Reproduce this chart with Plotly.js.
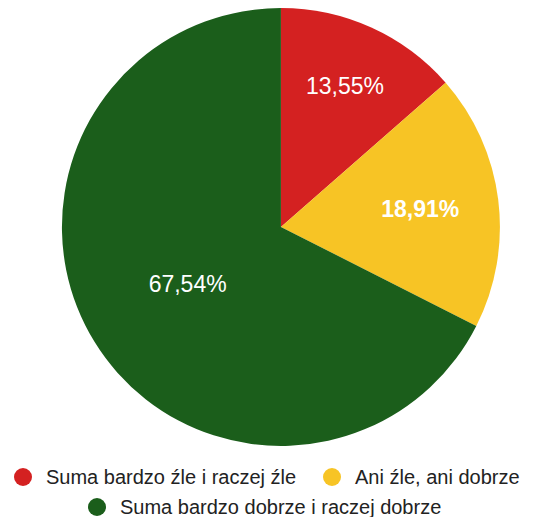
<!DOCTYPE html>
<html>
<head>
<meta charset="utf-8">
<script src="https://cdn.plot.ly/plotly-3.0.1.min.js"></script>
<style>
  html, body { margin: 0; padding: 0; background: #fff; }
  #chart { width: 553px; height: 517px; }
</style>
</head>
<body>
<div id="chart"></div>
<script>
const labels = ['Suma bardzo źle i raczej źle', 'Ani źle, ani dobrze', 'Suma bardzo dobrze i raczej dobrze'];
const values = [13.55, 18.91, 67.54];
const colors = ['#d42121', '#f7c425', '#1b5e1b'];

// legend entries drawn by hand: dot centre + text start, in pixels
const legendPos = [[23, 477], [332, 477], [97, 507]];

const W = 553, H = 517;
const px = x => x / W;
const py = y => 1 - y / H;

const pie = {
  type: 'pie',
  labels: labels,
  values: values,
  sort: false,
  direction: 'clockwise',
  rotation: 0,
  marker: { colors: colors, line: { width: 0 } },
  textposition: 'inside',
  insidetextorientation: 'horizontal',
  texttemplate: ['%{value:.2f}%', '<b>%{value:.2f}%</b>', '%{value:.2f}%'],
  textfont: { family: 'Liberation Sans, Arial, sans-serif', size: 23, color: '#ffffff' },
  domain: { x: [0.112, 0.904], y: [0.137, 0.985] },
  showlegend: false,
  hoverinfo: 'label+percent'
};

const shapes = labels.map((l, i) => ({
  type: 'circle',
  xref: 'paper', yref: 'paper',
  xsizemode: 'pixel', ysizemode: 'pixel',
  xanchor: px(legendPos[i][0]), yanchor: py(legendPos[i][1]),
  x0: -9, x1: 9, y0: -9, y1: 9,
  fillcolor: colors[i],
  line: { width: 0 }
}));

const annotations = labels.map((l, i) => ({
  text: l,
  xref: 'paper', yref: 'paper',
  x: px(legendPos[i][0] + 21), y: py(legendPos[i][1]),
  xanchor: 'left', yanchor: 'middle',
  showarrow: false,
  font: { family: 'Liberation Sans, Arial, sans-serif', size: 20, color: '#222222' }
}));

const layout = {
  width: W,
  height: H,
  margin: { t: 0, r: 0, b: 0, l: 0 },
  paper_bgcolor: '#ffffff',
  separators: ', ',
  showlegend: false,
  shapes: shapes,
  annotations: annotations
};

Plotly.newPlot('chart', [pie], layout, { displayModeBar: false, staticPlot: true });
</script>
</body>
</html>
